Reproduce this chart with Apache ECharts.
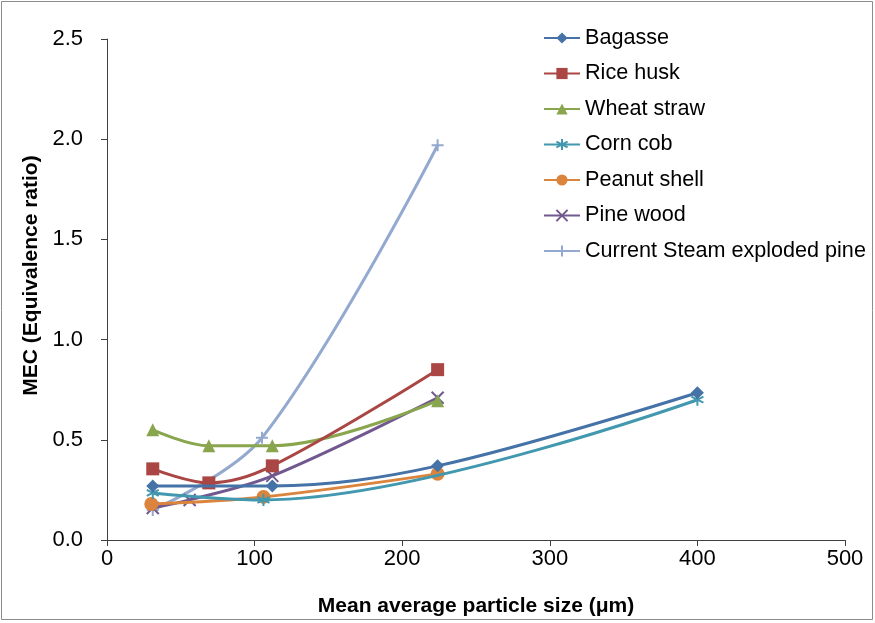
<!DOCTYPE html>
<html><head><meta charset="utf-8">
<script src="https://cdn.jsdelivr.net/npm/echarts@6/dist/echarts.min.js"></script>
<style>html,body{margin:0;padding:0;background:#fff}#c{width:875px;height:623px}</style>
</head><body><div id="c"></div>
<script>
var seriesNames = ['Bagasse','Rice husk','Wheat straw','Corn cob','Peanut shell','Pine wood','Current Steam exploded pine'];
var bagasseX = [31, 112, 224, 400];
var bagasseY = [0.27, 0.27, 0.37, 0.735];
var riceX = [31, 69, 112, 224];
var riceY = [0.355, 0.285, 0.37, 0.85];
var wheatX = [31, 69, 112, 224];
var wheatY = [0.55, 0.47, 0.47, 0.695];
var cornX = [31, 106, 400];
var cornY = [0.235, 0.2, 0.70];
var peanutX = [30, 106, 224];
var peanutY = [0.18, 0.215, 0.33];
var pineX = [31, 56, 112, 224];
var pineY = [0.16, 0.2, 0.32, 0.71];
var steamX = [31, 105, 224];
var steamY = [0.15, 0.51, 1.97];
var xTicks = [0, 100, 200, 300, 400, 500];
var yTicks = [0, 0.5, 1.0, 1.5, 2.0, 2.5];

var colors = ['#4572A7','#AA4643','#89A54E','#4198AF','#DB843D','#71588F','#93A9CF'];
var xs = [bagasseX, riceX, wheatX, cornX, peanutX, pineX, steamX];
var ys = [bagasseY, riceY, wheatY, cornY, peanutY, pineY, steamY];
var symbols = ['diamond','rect','triangle',
  'path://M5,0L5,10M0.7,2.5L9.3,7.5M0.7,7.5L9.3,2.5',
  'circle',
  'path://M0,0L10,10M10,0L0,10',
  'path://M5,0L5,10M0,5L10,5'];
var sizes = [13, 13, 13, 12, 14, 12, 12];
var stroked = [false,false,false,true,false,true,true];

function pairs(a, b){ return a.map(function(v,i){ return [v, b[i]]; }); }

var series = seriesNames.map(function(n, i){
  return {
    name: n, type: 'line', smooth: 0.35,
    data: pairs(xs[i], ys[i]),
    symbol: symbols[i], symbolSize: sizes[i],
    lineStyle: {color: colors[i], width: 3},
    itemStyle: stroked[i] ? {color: colors[i], borderColor: colors[i], borderWidth: 2} : {color: colors[i]},
    emphasis: {disabled: true},
    z: 10 - i
  };
});

var font = 'Liberation Sans';
var chart = echarts.init(document.getElementById('c'));
chart.setOption({
  animation: false,
  color: colors,
  grid: {left: 107, right: 30, top: 39, bottom: 83, containLabel: false, outerBoundsMode: 'none'},
  graphic: [{type: 'rect', shape: {x: 1.5, y: 1.5, width: 871, height: 618}, style: {fill: 'none', stroke: '#8c8c8c', lineWidth: 1}, silent: true}],
  legend: {
    orient: 'vertical', left: 543, top: 27, padding: 0,
    itemWidth: 36, itemHeight: 14, itemGap: 13.5,
    textStyle: {fontFamily: font, fontSize: 21.6, color: '#000'},
    data: seriesNames
  },
  xAxis: {
    type: 'value', min: 0, max: 500, interval: 100,
    name: 'Mean average particle size (μm)', nameLocation: 'middle', nameGap: 56,
    nameTextStyle: {fontFamily: font, fontSize: 21, fontWeight: 'bold', color: '#000'},
    axisLine: {show: true, lineStyle: {color: '#404040', width: 1}},
    axisTick: {show: true, length: 6, lineStyle: {color: '#404040'}},
    axisLabel: {fontFamily: font, fontSize: 22, color: '#000', margin: 8,
      formatter: function(v){ return xTicks.indexOf(v) >= 0 ? String(v) : ''; }},
    splitLine: {show: false}
  },
  yAxis: {
    type: 'value', min: 0, max: 2.5, interval: 0.5,
    name: 'MEC (Equivalence ratio)', nameLocation: 'middle', nameGap: 62,
    nameTextStyle: {fontFamily: font, fontSize: 21, fontWeight: 'bold', color: '#000', padding: [0, 0, 0, 28]},
    axisLine: {show: true, lineStyle: {color: '#404040', width: 1}},
    axisTick: {show: true, length: 6, lineStyle: {color: '#404040'}},
    axisLabel: {fontFamily: font, fontSize: 22, color: '#000', margin: 24,
      formatter: function(v){ return yTicks.indexOf(v) >= 0 ? v.toFixed(1) : ''; }},
    splitLine: {show: false}
  },
  series: series
});
</script></body></html>
